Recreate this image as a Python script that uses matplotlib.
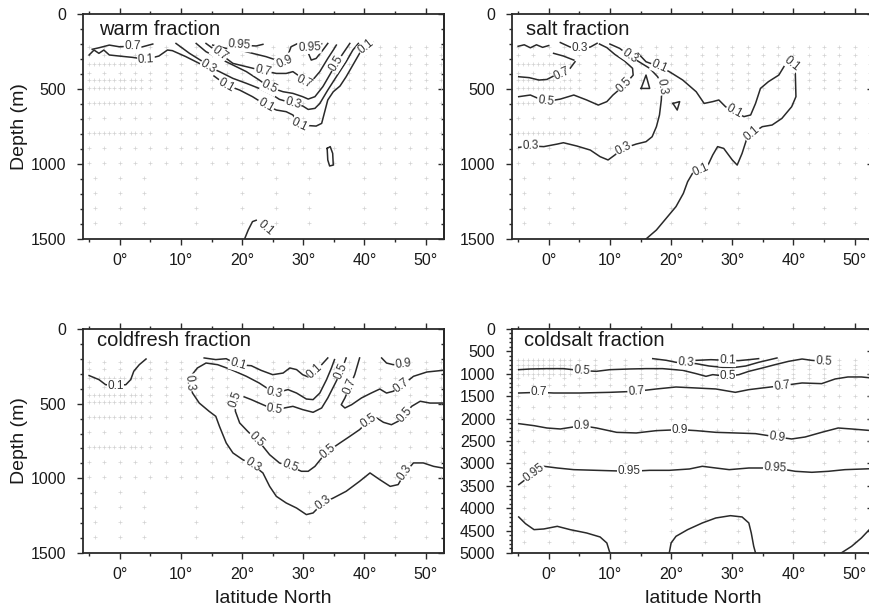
import numpy as np
import matplotlib.pyplot as plt
from matplotlib.ticker import MultipleLocator, FuncFormatter

plt.rcParams['font.family'] = ['Liberation Sans', 'DejaVu Sans']

#%% Contour lines: (level, lat, depth, label indices)
warm_contours = [
    (0.1, [-5.0, -4.2, -3.4, -2.6, -1.7, -0.1, 2.1, 4.3, 6.4, 7.8, 8.6, 10.8, 13.0, 15.2, 17.4, 19.6,
           21.7, 23.9, 25.6, 27.2, 28.3, 29.4, 32.1, 33.0, 34.0, 34.9, 36.0, 37.0, 38.1, 39.2, 40.3, 41.4],
          [273, 240, 262, 240, 273, 280, 289, 302, 280, 240, 244, 284, 329, 407, 473, 507,
           551, 607, 640, 651, 673, 740, 747, 729, 573, 518, 480, 418, 340, 262, 218, 190],
     [7, 14, 17, 21, 30]),
    (0.3, [9.2, 11.4, 13.6, 14.5, 16.3, 18.5, 20.7, 22.8, 25.0, 26.1, 28.3, 29.9, 30.8, 31.9, 32.7,
           34.0, 35.4, 37.0, 38.1, 39.0],
          [196, 262, 318, 351, 384, 429, 462, 496, 540, 569, 595, 613, 636, 629, 596, 507, 418, 318, 240, 196],
     [3, 10]),
    (0.5, [12.5, 14.1, 16.3, 18.5, 20.7, 22.8, 24.5, 26.7, 28.3, 29.9, 30.8, 31.9, 33.2, 34.3, 35.4, 36.5, 37.6],
          [196, 251, 296, 340, 384, 440, 489, 518, 529, 551, 567, 551, 484, 407, 329, 262, 196],
     [6, 14]),
    (0.7, [14.1, 16.3, 18.5, 20.7, 23.4, 25.6, 27.2, 28.3, 29.1, 30.2, 31.3, 32.7, 34.0, 34.9, 35.4],
          [196, 262, 329, 351, 378, 396, 396, 384, 407, 451, 451, 384, 296, 240, 207],
     [1, 4, 9]),
    (0.9, [15.2, 17.4, 19.6, 21.7, 23.9, 25.6, 26.9, 27.5, 28.0, 29.1, 30.5, 31.3, 32.1, 33.2, 34.0],
          [207, 229, 240, 262, 284, 307, 318, 273, 218, 196, 229, 307, 296, 240, 196],
     [6]),
    (0.95, [17.9, 19.6, 22.3, 23.4], [200, 207, 213, 202], [1]),
    (0.95, [29.5, 30.2, 31.0, 32.0, 33.0], [200, 215, 222, 212, 198], [2]),
    (0.7, [-4.5, -3.4, -1.7, -0.1, 2.1, 3.6, 5.4], [235, 225, 207, 218, 215, 220, 200], [4]),
    (0.1, [33.9, 34.4, 34.8, 34.9, 34.3, 34.0, 33.9], [896, 884, 929, 1007, 1013, 973, 896], []),
    (0.1, [20.4, 21.0, 21.7, 22.3], [1500, 1440, 1384, 1375], []),
]
warm_free_labels = [(23.8, 1425, 0.1, -40)]

salt_contours = [
    (0.1, [14.6, 15.9, 18.1, 19.7, 21.9, 24.1, 25.4, 26.8, 27.8, 28.9, 30.3, 31.9, 33.0, 33.8, 34.6, 35.9,
           37.6, 38.6, 39.7, 40.3, 40.4, 39.7, 38.1, 36.5, 34.9, 33.2, 32.3, 31.6, 30.8, 30.0, 28.6,
           27.6, 26.8, 25.9, 24.9, 23.5, 22.7, 22.0, 20.8, 19.2, 17.6, 15.9],
          [262, 318, 351, 384, 440, 518, 596, 584, 573, 618, 651, 684, 673, 596, 496, 451,
           407, 340, 329, 396, 551, 618, 696, 740, 751, 796, 840, 929, 1007, 973, 896,
           884, 940, 1018, 1040, 1062, 1118, 1196, 1284, 1362, 1440, 1500],
     [2, 10, 18, 25, 34]),
    (0.3, [10.0, 11.6, 13.2, 14.9, 16.5, 17.8, 18.5, 18.4, 18.1, 17.6, 16.9, 15.9, 14.3, 12.2, 10.8, 9.7,
           8.4, 6.8, 4.6, 2.4, 1.4, -0.8, -3.0, -4.9],
          [200, 229, 278, 322, 362, 418, 484, 573, 673, 751, 818, 851, 867, 896, 940, 973,
           951, 907, 880, 858, 867, 884, 880, 889],
     [2, 6, 13, 22]),
    (0.5, [-4.9, -3.0, -0.5, 1.9, 4.1, 6.2, 8.1, 9.5, 10.5, 12.4, 13.8, 13.7, 12.4, 10.8, 9.5, 8.3],
          [551, 540, 584, 567, 540, 573, 607, 584, 540, 473, 407, 362, 313, 269, 224, 200],
     [2, 9]),
    (0.7, [-4.9, -3.2, -1.6, -0.3, 1.1, 2.2, 3.5, 4.3], [418, 424, 440, 436, 407, 396, 362, 318], [5]),
    (0.5, [15.1, 15.9, 16.5, 15.1], [496, 407, 496, 496], []),
    (0.1, [20.3, 21.4, 21.0, 20.3], [596, 584, 640, 596], []),
    (0.3, [1.9, 3.5, 5.1, 6.8, 7.9], [190, 220, 228, 220, 195], [2]),
    (0.9, [-5.0, -4.0, -3.0, -2.0, -1.0, 0.0], [215, 205, 225, 205, 222, 210], []),
    (0.7, [0.8, 2.4, 4.1], [262, 280, 307], []),
]

coldfresh_contours = [
    (0.1, [-5.0, -3.4, -2.3, -0.7, 1.0, 1.8, 2.3, 3.2, 4.3], [312, 339, 373, 379, 373, 339, 283, 239, 201], [3]),
    (0.1, [13.8, 15.7, 17.4, 19.3, 21.5, 23.1, 25.0, 26.7, 27.8, 28.9, 29.9, 30.8, 31.9, 33.0, 34.0],
          [194, 205, 199, 239, 246, 277, 306, 295, 261, 272, 306, 321, 283, 239, 194],
     [3, 12]),
    (0.3, [35.1, 34.6, 33.8, 32.7, 31.6, 30.5, 28.9, 27.5, 25.3, 22.8, 20.7, 18.2, 16.0, 14.1, 12.7, 11.6,
           11.4, 11.9, 13.0, 14.6, 15.7, 16.3, 17.4, 18.5, 20.1, 21.7, 23.4, 24.5, 25.6, 27.2, 28.9, 30.5,
           31.6, 33.2, 34.9, 37.0, 39.2, 40.9, 42.5, 44.2, 45.5, 46.6, 48.0, 49.6, 51.3, 52.8],
          [205, 261, 339, 429, 473, 469, 429, 406, 429, 362, 317, 272, 239, 228, 261, 317,
           360, 429, 496, 551, 585, 652, 763, 830, 875, 908, 964, 1054, 1121, 1165, 1199, 1243,
           1232, 1165, 1132, 1087, 1020, 964, 1009, 1054, 1042, 964, 897, 897, 920, 931],
     [8, 16, 25, 33, 41]),
    (0.5, [37.0, 36.2, 35.1, 34.0, 33.0, 31.6, 29.9, 28.3, 26.9, 25.3, 23.4, 21.5, 19.8, 18.9, 18.9, 19.6,
           20.9, 22.3, 23.4, 24.5, 26.1, 27.8, 29.7, 30.8, 31.9, 33.0, 34.0, 36.0, 37.6, 39.2, 40.6, 42.0,
           43.1, 44.4, 45.5, 46.6, 47.7, 49.1, 50.7, 52.8],
          [194, 283, 373, 462, 529, 558, 540, 518, 529, 540, 507, 473, 446, 473, 551, 629,
           685, 741, 786, 842, 897, 920, 953, 953, 920, 864, 819, 763, 719, 674, 618, 596,
           625, 641, 618, 574, 518, 484, 496, 496],
     [1, 9, 13, 17, 21, 26, 30, 35]),
    (0.7, [39.2, 38.4, 37.6, 36.8, 36.2, 36.8, 37.9, 39.5, 41.1, 42.5, 43.6, 44.7, 46.1, 48.0, 50.2, 52.8],
          [194, 306, 384, 462, 507, 529, 507, 462, 429, 402, 429, 417, 379, 317, 288, 277],
     [2, 12]),
    (0.9, [42.8, 43.6, 44.7, 46.3, 47.5], [194, 228, 239, 232, 225], [3]),
]

coldsalt_contours = [
    (0.5, [-4.9, -3.0, -0.3, 2.4, 5.4, 7.8, 10.0, 13.2, 15.9, 18.6, 21.9, 24.1, 25.7, 26.8, 29.2, 31.1,
           32.7, 34.9, 37.0, 39.2, 41.4, 43.0, 44.9, 46.0],
          [908, 893, 885, 885, 930, 945, 908, 893, 885, 885, 923, 997, 1057, 1019, 1057, 1019,
           945, 871, 796, 722, 670, 700, 722, 722],
     [4, 14, 22]),
    (0.3, [17.0, 19.2, 20.8, 22.4, 24.1, 26.2, 28.4, 30.5, 32.2, 34.3, 37.3],
          [662, 699, 744, 759, 774, 826, 856, 856, 826, 744, 647], [3]),
    (0.1, [24.1, 26.5, 29.2, 31.0, 32.7, 34.3], [700, 685, 700, 707, 685, 662], [2]),
    (0.7, [-4.9, -1.6, 0.8, 5.1, 10.0, 14.3, 17.6, 20.8, 24.1, 27.3, 30.5, 32.7, 34.9, 38.1, 41.4, 44.6,
           46.8, 48.9, 51.1, 52.8],
          [1429, 1414, 1429, 1429, 1414, 1391, 1339, 1295, 1317, 1339, 1414, 1354, 1317, 1265, 1205, 1220,
           1116, 1071, 1071, 1094],
     [1, 5, 13]),
    (0.9, [-4.9, -2.4, -0.3, 1.9, 5.4, 7.8, 11.1, 14.3, 17.6, 21.4, 24.1, 27.3, 30.5, 33.8, 37.3, 39.7,
           41.9, 44.6, 47.3, 49.5, 52.8],
          [2113, 2158, 2210, 2232, 2158, 2210, 2307, 2321, 2269, 2247, 2269, 2307, 2321, 2336, 2411, 2455,
           2411, 2307, 2210, 2232, 2269],
     [4, 9, 14]),
    (0.95, [-4.9, -2.4, -0.8, 1.4, 4.1, 7.8, 13.2, 16.5, 19.7, 23.0, 25.1, 27.3, 29.5, 32.7, 37.0, 40.3,
            43.0, 45.7, 48.4, 52.8],
           [3475, 3214, 3065, 3103, 3140, 3155, 3177, 3155, 3155, 3125, 3065, 3103, 3140, 3103, 3103, 3177,
            3199, 3177, 3140, 3118],
     [1, 6, 14]),
    (0.99, [-4.9, -3.8, -2.4, -0.8, 1.4, 3.5, 6.2, 8.4, 9.5, 10.0],
           [4196, 4345, 4479, 4464, 4405, 4479, 4554, 4643, 4777, 5000], []),
    (0.99, [19.7, 20.0, 20.8, 22.7, 25.1, 27.3, 29.7, 31.6, 32.7, 33.1, 33.5, 33.8],
           [5000, 4777, 4628, 4479, 4330, 4219, 4167, 4196, 4330, 4554, 4851, 5000], []),
    (0.99, [47.8, 49.5, 51.1, 52.8], [5000, 4851, 4665, 4420], []),
]

#%% Sample (station) positions shown as faint crosses
stn_lat = [-5, -2.5, 0, 2.5, 5, 7.5, 10, 12.5, 15, 17.5, 20, 22.5, 25, 27.5, 30, 32.5, 35,
           37.5, 40, 42.5, 45, 47.5, 50, 52.5]
eq_lat = [-4.2, -3.4, -1.7, -0.9, 0.7, 1.8, 3.4]
deep_lat = [-4, 0, 4, 12.5, 20, 25.5, 31, 40, 45, 50]
stn_dep_top = [220, 270, 330, 390, 440, 490, 590, 690, 790, 890, 990, 1090, 1190, 1290, 1390]
dense_dep_top = [330, 440, 490, 590, 790]
stn_dep_cs = [700, 800, 900, 1000, 1100, 1250, 1500, 1750, 2000, 2250, 2500, 2750, 3000,
              3250, 3500, 3750, 4000, 4250, 4500, 4750]
dense_dep_cs = [700, 800, 900, 1000]


def stations(depths, dense, shallow_max):
    xs, ys = [], []
    for d in depths:
        lats = stn_lat if d <= shallow_max else deep_lat
        if d in dense:
            lats = lats + eq_lat
        xs += lats
        ys += [d] * len(lats)
    return xs, ys


LC = '#2a2a2a'


def draw_panel(ax, contours, ymax, title, tx, ty, st):
    ax.set_xlim(-6, 53)
    ax.set_ylim(ymax, 0)
    ax.plot(st[0], st[1], ls='none', marker='+', ms=2.5, mew=0.5, color='#d2d2d2', zorder=1)
    for level, lats, deps, labs in contours:
        ax.plot(lats, deps, color=LC, lw=1.1, solid_joinstyle='round', zorder=3)
        for i in labs:
            j0, j1 = max(i - 1, 0), min(i + 1, len(lats) - 1)
            p0 = ax.transData.transform((lats[j0], deps[j0]))
            p1 = ax.transData.transform((lats[j1], deps[j1]))
            ang = np.degrees(np.arctan2(p1[1] - p0[1], p1[0] - p0[0]))
            if ang > 90:
                ang -= 180
            if ang < -90:
                ang += 180
            ax.text(lats[i], deps[i], f'{level:g}', rotation=ang, rotation_mode='anchor',
                    ha='center', va='center', fontsize=8.5, color='#333333', zorder=4,
                    bbox=dict(boxstyle='square,pad=0.05', fc='white', ec='none'))
    ax.text(tx, ty, title, transform=ax.transAxes, va='top', ha='left', fontsize=14.5,
            color='#1a1a1a', zorder=5)
    ax.xaxis.set_major_locator(MultipleLocator(10))
    ax.xaxis.set_minor_locator(MultipleLocator(5))
    ax.xaxis.set_major_formatter(FuncFormatter(lambda v, p: f'{v:g}°'))
    ax.yaxis.set_major_locator(MultipleLocator(500))
    ax.yaxis.set_minor_locator(MultipleLocator(100))
    ax.tick_params(which='both', direction='out', top=True, right=False, width=1, color=LC,
                   labelsize=11.5, labelcolor='#1a1a1a')
    ax.tick_params(which='major', length=4, pad=6)
    ax.tick_params(which='minor', length=2)
    ax.tick_params(axis='y', which='major', pad=8)
    sec = ax.secondary_yaxis('right')
    sec.yaxis.set_major_locator(MultipleLocator(500))
    sec.yaxis.set_minor_locator(MultipleLocator(100))
    sec.tick_params(which='both', direction='in', labelright=False, color=LC, width=1)
    sec.tick_params(which='major', length=4)
    sec.tick_params(which='minor', length=2)
    sec.spines['right'].set_linewidth(1.3)
    for s in ax.spines.values():
        s.set_linewidth(1.3)
        s.set_color(LC)


fig = plt.figure(figsize=(8.7, 6.08), dpi=100)
ax1 = fig.add_axes([0.0954, 0.6069, 0.415, 0.370])
ax2 = fig.add_axes([0.5885, 0.6069, 0.415, 0.370])
ax3 = fig.add_axes([0.0954, 0.0905, 0.415, 0.3684])
ax4 = fig.add_axes([0.5885, 0.0905, 0.415, 0.3684])

st_top = stations(stn_dep_top, dense_dep_top, 990)
st_cs = stations(stn_dep_cs, dense_dep_cs, 2500)

draw_panel(ax1, warm_contours, 1500, 'warm fraction', 0.045, 0.975, st_top)
draw_panel(ax2, salt_contours, 1500, 'salt fraction', 0.038, 0.975, st_top)
draw_panel(ax3, coldfresh_contours, 1500, 'coldfresh fraction', 0.038, 0.99, st_top)
draw_panel(ax4, coldsalt_contours, 5000, 'coldsalt fraction', 0.032, 0.99, st_cs)

for lat, dep, lev, rot in warm_free_labels:
    ax1.text(lat, dep, f'{lev:g}', rotation=rot, ha='center', va='center', fontsize=8.5,
             color='#333333', zorder=4)

fig.text(20 / 870, 0.792, 'Depth (m)', rotation=90, ha='center', va='center', fontsize=14,
         color='#1a1a1a')
fig.text(20 / 870, 0.2747, 'Depth (m)', rotation=90, ha='center', va='center', fontsize=14,
         color='#1a1a1a')
fig.text(273 / 870, 0.008, 'latitude North', ha='center', va='baseline', fontsize=14,
         color='#1a1a1a')
fig.text(703 / 870, 0.008, 'latitude North', ha='center', va='baseline', fontsize=14,
         color='#1a1a1a')

fig.savefig('out.png', dpi=100)
